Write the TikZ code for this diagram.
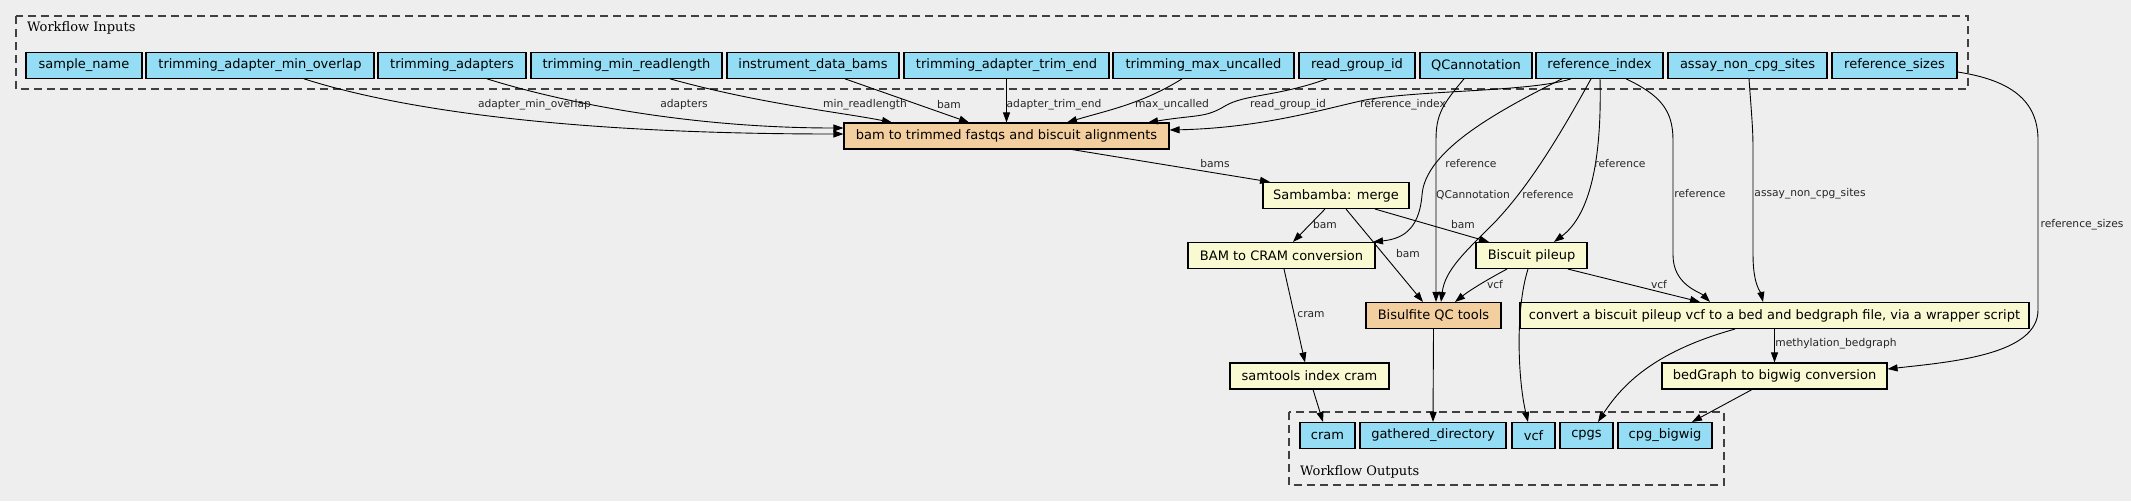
\documentclass[tikz,border=0pt]{standalone}
\usepackage{fontspec}
\setmainfont{DejaVu Sans}
\newfontfamily\titlefont{DejaVu Serif}
\usetikzlibrary{arrows.meta}
\definecolor{bgc}{HTML}{EEEEEE}
\definecolor{inc}{HTML}{94DDF5}
\definecolor{stc}{HTML}{FAFAD2}
\definecolor{orc}{HTML}{F3CE9F}
\begin{document}
\begin{tikzpicture}[x=1pt,y=-1pt,
 box/.style={draw=black, line width=1.1pt, inner sep=0pt, minimum height=26pt, font=\fontsize{13}{15}\selectfont},
 inbox/.style={box, fill=inc},
 stepbox/.style={box, fill=stc},
 heavybox/.style={box, fill=orc},
 lbl/.style={font=\fontsize{10.7}{12}\selectfont, inner sep=0pt, text=black!85},
 edge/.style={draw, line width=0.9pt, -{Triangle[length=10pt,width=7pt]}},
 cluster/.style={draw=black!75, line width=1.1pt, dash pattern=on 8pt off 5pt},
 ttl/.style={font=\titlefont\fontsize{13}{15}\selectfont, inner sep=0pt, anchor=west}
]
\path[use as bounding box, fill=bgc] (0,0) rectangle (2131,501);

% clusters
\draw[cluster] (16,16) rectangle (1968,89);
\node[ttl] (tin) at (27,28) {Workflow Inputs};
\draw[cluster] (1289,412) rectangle (1724,485);
\node[ttl] (tout) at (1300,472) {Workflow Outputs};

% inputs
\node[inbox, minimum width=116pt] (sn) at (84,65.3) {sample\_name};
\node[inbox, minimum width=228pt] (mo) at (260,65.3) {trimming\_adapter\_min\_overlap};
\node[inbox, minimum width=148pt] (ta) at (452,65.3) {trimming\_adapters};
\node[inbox, minimum width=191pt] (mr) at (626.5,65.3) {trimming\_min\_readlength};
\node[inbox, minimum width=172pt] (ib) at (813,65.3) {instrument\_data\_bams};
\node[inbox, minimum width=205pt] (te) at (1006.5,65.3) {trimming\_adapter\_trim\_end};
\node[inbox, minimum width=181pt] (mu) at (1203.5,65.3) {trimming\_max\_uncalled};
\node[inbox, minimum width=116pt] (rg) at (1357,65.3) {read\_group\_id};
\node[inbox, minimum width=112pt] (qc) at (1476,65.3) {QCannotation};
\node[inbox, minimum width=127pt] (ri) at (1599.5,65.3) {reference\_index};
\node[inbox, minimum width=159pt] (as) at (1747.5,65.3) {assay\_non\_cpg\_sites};
\node[inbox, minimum width=125pt] (rs) at (1894.5,65.3) {reference\_sizes};

% steps
\node[heavybox, minimum width=325pt] (b) at (1006.5,136) {bam to trimmed fastqs and biscuit alignments};
\node[stepbox, minimum width=146pt] (sm) at (1336,195.5) {Sambamba: merge};
\node[stepbox, minimum width=187pt] (bc) at (1281.5,255.5) {BAM to CRAM conversion};
\node[stepbox, minimum width=111pt] (pu) at (1531.5,255.5) {Biscuit pileup};
\node[heavybox, minimum width=135pt] (bq) at (1433.5,315.5) {Bisulfite QC tools};
\node[stepbox, minimum width=509pt] (cv) at (1774.5,315.5) {convert a biscuit pileup vcf to a bed and bedgraph file, via a wrapper script};
\node[stepbox, minimum width=225pt] (bg) at (1774.5,376) {bedGraph to bigwig conversion};
\node[stepbox, minimum width=159pt] (st) at (1309.5,376) {samtools index cram};

% outputs
\node[inbox, minimum width=55pt] (ocram) at (1327.5,435.5) {cram};
\node[inbox, minimum width=146pt] (ogd) at (1433,435.5) {gathered\_directory};
\node[inbox, minimum width=43pt] (ovcf) at (1533.5,435.5) {vcf};
\node[inbox, minimum width=53pt] (ocpgs) at (1586.5,435.5) {cpgs};
\node[inbox, minimum width=94pt] (ocb) at (1665,435.5) {cpg\_bigwig};

% edges from inputs to b
\path[edge] ([xshift=44pt]mo.south) .. controls +(110,35) and +(-250,0) .. ([yshift=2pt]b.west);
\path[edge] ([xshift=35pt]ta.south) .. controls +(80,25) and +(-150,0) .. ([yshift=8pt]b.west);
\path[edge] ([xshift=43.5pt]mr.south) .. controls +(90,25) and +(-50,-10) .. ([xshift=-114.5pt]b.north);
\path[edge] ([xshift=32pt]ib.south) -- ([xshift=-37.5pt]b.north);
\path[edge] (te.south) -- (b.north);
\path[edge] ([xshift=-21.5pt]mu.south) .. controls +(-40,25) and +(40,-12) .. ([xshift=60.5pt]b.north);
\path[edge] ([xshift=-30pt]rg.south) .. controls +(-50,18) and +(20,-12) .. (1225,106) .. controls +(-20,12) and +(50,-8) .. ([xshift=141.5pt]b.north);
\path[edge] ([xshift=-28.5pt]ri.south) .. controls (1530,92) and (1420,90) .. (1365,100) .. controls (1320,110) and (1260,128) .. ([yshift=6pt]b.east);

\node[lbl] (l1) at (534.5,105) {adapter\_min\_overlap};
\node[lbl] (l2) at (684,105) {adapters};
\node[lbl] (l3) at (865,105) {min\_readlength};
\node[lbl] (l4) at (949,105) {bam};
\node[lbl] (l5) at (1054,105) {adapter\_trim\_end};
\node[lbl] (l6) at (1172,105) {max\_uncalled};
\node[lbl] (l7) at (1288,105) {read\_group\_id};
\node[lbl] (l8) at (1403,105) {reference\_index};

% b -> sambamba
\path[edge] ([xshift=65.5pt]b.south) -- ([xshift=-66pt]sm.north);
\node[lbl] (l9) at (1215,164) {bams};

% sambamba out
\path[edge] ([xshift=-11pt]sm.south) -- ([xshift=11.5pt]bc.north);
\path[edge] ([xshift=10pt]sm.south) -- ([xshift=-10.5pt]bq.north);
\path[edge] ([xshift=39pt]sm.south) -- ([xshift=-42.5pt]pu.north);
\node[lbl] (l10) at (1325,225) {bam};
\node[lbl] (l11) at (1463,225) {bam};
\node[lbl] (l12) at (1408,254) {bam};

% reference_index edges
\path[edge] ([xshift=-37.5pt]ri.south) .. controls (1500,110) and (1425,150) .. (1422,195) .. controls (1419,232) and (1400,239) .. ([xshift=91.5pt]bc.north);
\path[edge] ([xshift=-8.5pt]ri.south) .. controls (1560,135) and (1530,185) .. (1495,222) .. controls (1465,252) and (1445,270) .. ([xshift=7.5pt]bq.north);
\path[edge] ([xshift=0.5pt]ri.south) .. controls (1602,160) and (1590,215) .. ([xshift=22.5pt]pu.north);
\path[edge] ([xshift=26.5pt]ri.south) .. controls (1660,95) and (1673,110) .. (1673,140) -- (1673,255) .. controls (1673,285) and (1700,292) .. ([xshift=-64.5pt]cv.north);
\node[lbl] (l13) at (1471,164) {reference};
\node[lbl] (l14) at (1620,164) {reference};
\node[lbl] (l15) at (1548,195) {reference};
\node[lbl] (l16) at (1700,194) {reference};

% QCannotation
\path[edge] ([xshift=-12pt]qc.south) .. controls (1442,105) and (1436,115) .. (1436,140) -- ([xshift=2.5pt]bq.north);
\node[lbl] (l17) at (1473,195) {QCannotation};

% assay
\path[edge] ([xshift=1.5pt]as.south) .. controls (1752,120) and (1753,130) .. (1753,150) -- (1753,255) .. controls (1753,285) and (1761,293) .. ([xshift=-11.5pt]cv.north);
\node[lbl] (l18) at (1810,194) {assay\_non\_cpg\_sites};

% reference sizes
\path[edge] ([yshift=-6.7pt]rs.east) .. controls (2010,80) and (2038,100) .. (2038,140) -- (2038,310) .. controls (2038,355) and (1950,362) .. ([yshift=7pt]bg.east);
\node[lbl] (l19) at (2082,225) {reference\_sizes};

% pileup out
\path[edge] ([xshift=-24.5pt]pu.south) .. controls (1490,278) and (1470,290) .. ([xshift=21.5pt]bq.north);
\path[edge] ([xshift=36.5pt]pu.south) -- ([xshift=-74.5pt]cv.north);
\path[edge] ([xshift=-3.5pt]pu.south) .. controls (1515,310) and (1518,380) .. ([xshift=-5.5pt]ovcf.north);
\node[lbl] (l20) at (1495,285) {vcf};
\node[lbl] (l21) at (1659,285) {vcf};

% others
\path[edge] (bq.south) -- (ogd.north);
\path[edge] ([xshift=2.5pt]bc.south) -- ([xshift=-4.5pt]st.north);
\node[lbl] (l22) at (1311,315) {cram};
\path[edge] ([xshift=3.5pt]st.south) -- ([xshift=-4.5pt]ocram.north);
\path[edge] (cv.south) -- (bg.north);
\node[lbl] (l23) at (1836,344) {methylation\_bedgraph};
\path[edge] ([xshift=-39.5pt]cv.south) .. controls (1660,350) and (1625,380) .. ([xshift=11.5pt]ocpgs.north);
\path[edge] ([xshift=-22.5pt]bg.south) -- ([xshift=27pt]ocb.north);
\end{tikzpicture}
\end{document}
